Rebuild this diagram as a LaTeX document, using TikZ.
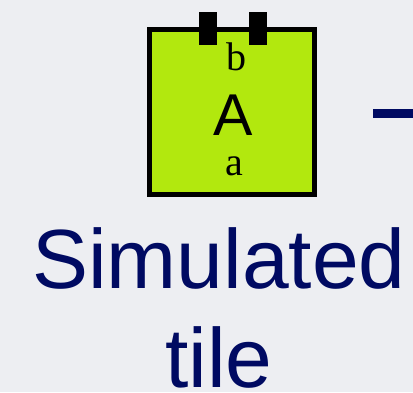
\documentclass[tikz,border=0pt]{standalone}
\usepackage{fontspec}
\setmainfont{Liberation Serif}
\setsansfont{Liberation Sans}
\usetikzlibrary{positioning}
\definecolor{cbg}{HTML}{EDEEF2}
\definecolor{clime}{HTML}{B2E80E}
\definecolor{cnavy}{HTML}{000A62}
\tikzset{
  every picture/.style={x=1pt, y=-1pt},
  tilebox/.style={draw=black, fill=clime, line width=5pt, minimum width=165pt, minimum height=165pt, inner sep=0pt},
  tab/.style={fill=black, minimum width=18pt, minimum height=33pt, inner sep=0pt},
  port/.style={font=\fontsize{40}{40}\selectfont\rmfamily, anchor=base, inner sep=0pt},
  tilename/.style={font=\fontsize{59}{59}\selectfont\sffamily, anchor=base, inner sep=0pt},
  caption/.style={font=\fontsize{84}{99}\selectfont\sffamily, text=cnavy, align=center, anchor=base, inner sep=0pt},
  link/.style={draw=cnavy, line width=9pt},
}
\begin{document}
\begin{tikzpicture}
  \fill[cbg] (0,0) rectangle (413,392);
  \useasboundingbox (0,0) rectangle (413,392);
  % the tile and its two ports on top
  \node[tilebox] (tileA) at (232,112) {};
  \node[tab] (tabl) at (208,28.5) {};
  \node[tab] (tabr) at (257.5,28.5) {};
  \node[port] (portb) at (236,70) {b};
  \node[tilename] (nameA) at (233,135) {A};
  \node[port] (porta) at (234,175) {a};
  % caption below
  \node[caption] (label) at (219,387) {Simulated\\tile};
  % link leaving to the right
  \coordinate (linkstart) at (373,113.5);
  \coordinate (linkend) at (413,113.5);
  \draw[link] (linkstart) -- (linkend);
\end{tikzpicture}
\end{document}
